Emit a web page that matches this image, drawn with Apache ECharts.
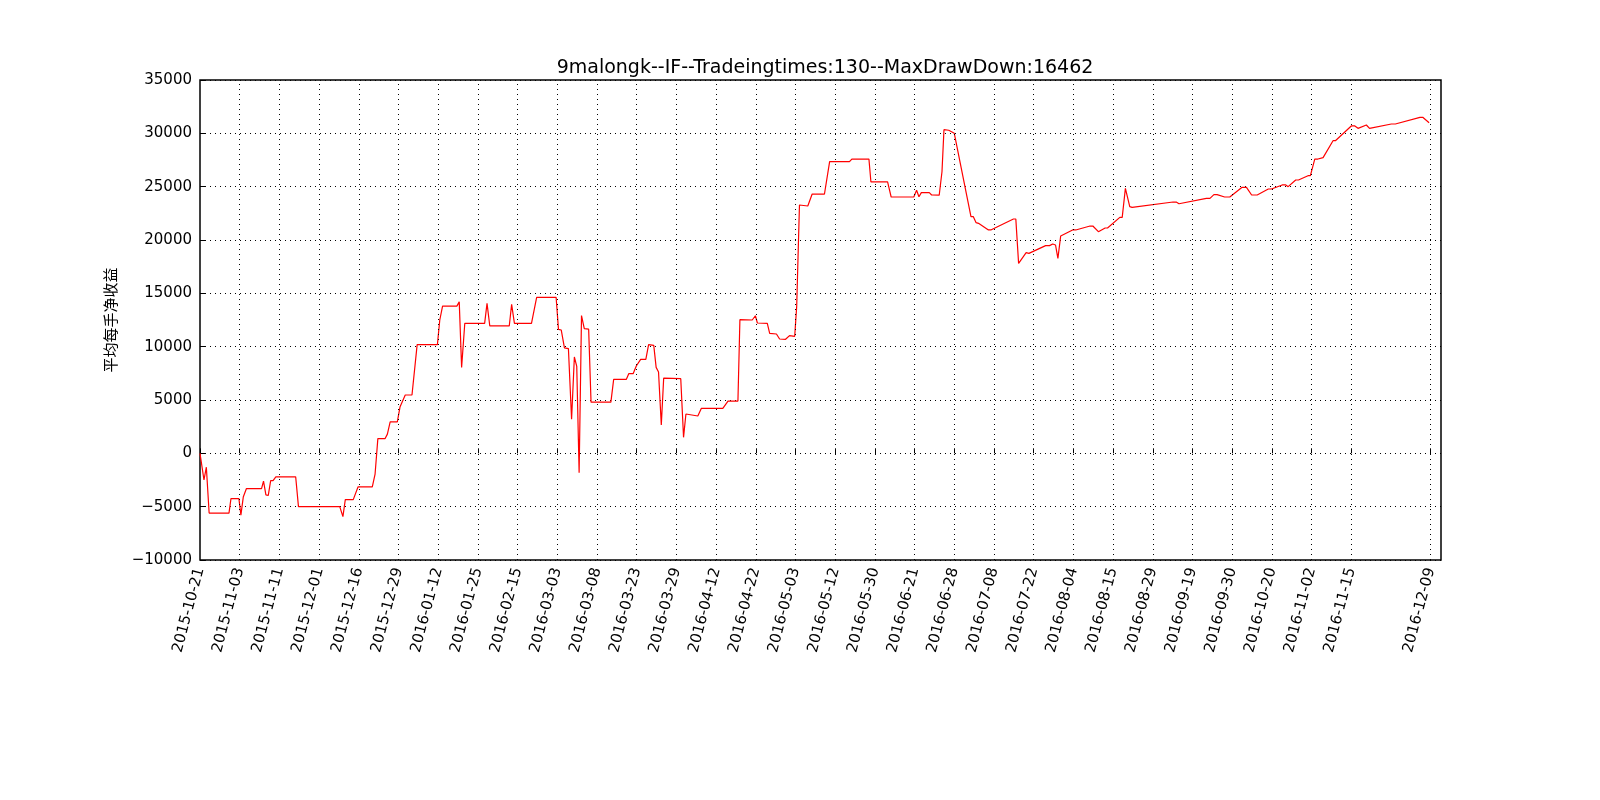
<!DOCTYPE html>
<html>
<head>
<meta charset="utf-8">
<script src="https://cdn.jsdelivr.net/npm/echarts@6/dist/echarts.min.js"></script>
<style>html,body{margin:0;padding:0;background:#fff}#main{width:1600px;height:800px}</style>
</head>
<body>
<div id="main"></div>
<script>
// 交易序号（每10笔一个刻度）与对应日期
var tickLabels = ['2015-10-21','2015-11-03','2015-11-11','2015-12-01','2015-12-16','2015-12-29',
  '2016-01-12','2016-01-25','2016-02-15','2016-03-03','2016-03-08','2016-03-23','2016-03-29',
  '2016-04-12','2016-04-22','2016-05-03','2016-05-12','2016-05-30','2016-06-21','2016-06-28',
  '2016-07-08','2016-07-22','2016-08-04','2016-08-15','2016-08-29','2016-09-19','2016-09-30',
  '2016-10-20','2016-11-02','2016-11-15','','2016-12-09'];

// 交易序号
var tradeIdx = [0,1,1.6,2.3,7.3,7.8,9.8,10.3,10.9,11.7,15.5,16,16.6,17.2,17.8,18.4,19.1,24.1,24.8,35.2,
  36,36.6,38.6,39.8,43.4,44.1,44.8,46.6,47.2,47.9,49.7,50.4,51.7,53.4,54.7,59.8,60.4,61.1,64.7,65.3,
  65.9,66.7,71.7,72.3,73,77.9,78.5,79.2,83.5,84.8,89.7,90.3,91,91.8,92.8,93.6,94.3,94.9,95.5,96.1,
  96.8,97.9,98.5,103.5,104.2,107.4,108,109.1,109.9,111,112.3,113,114.3,114.9,115.5,116.2,116.8,121.1,
  121.8,122.4,125.4,126.3,131.7,133,135.5,136,139.1,139.9,140.4,142.9,143.5,145.2,146,147.5,148.5,
  149.8,150.3,151,153.1,154.2,157.3,158.6,163.6,164.2,168.5,169,173.2,174.1,179.8,180.5,181.1,181.7,
  183.7,184.3,186.2,186.9,187.4,188.6,190,194.2,194.8,195.5,196.1,198.6,199.2,204.9,205.5,206.2,208.1,
  208.8,209.3,213,214,214.8,215.5,216.1,216.8,219.8,220.6,224.2,224.9,226.3,228,228.6,231.7,232.3,233.1,
  234.2,234.8,245.1,245.9,246.6,253.5,254.4,255.4,256.2,258.1,259.4,262.5,263.6,264.9,266.3,269.1,
  269.9,272.6,273.5,274.1,276,276.7,279.1,279.7,280.8,281.6,282.9,285.4,286,290,290.9,291.7,293.8,
  294.6,300.1,301.1,307.3,308,309.6];

// 平均每手净收益
var netProfit = [0,-2500,-1300,-5600,-5600,-4250,-4250,-5800,-4100,-3300,-3300,-2600,-3900,-3950,-2550,
  -2550,-2200,-2200,-5000,-5000,-5940,-4340,-4340,-3150,-3150,-1940,1375,1375,1800,2940,2940,4375,5470,
  5470,10190,10190,12500,13800,13800,14200,8060,12190,12190,14060,11940,11940,13970,12190,12190,14630,
  14630,11620,11560,9880,9820,3190,9030,8160,-1810,12920,11690,11640,4800,4800,6940,6940,7470,7470,8190,
  8810,8810,10190,10125,8060,7625,2660,7060,7000,1500,3690,3500,4220,4220,4900,4900,12530,12500,12900,
  12220,12190,11250,11190,10720,10690,11030,10970,13750,23280,23190,24310,24310,27340,27340,27590,27590,
  25440,25440,24030,24030,24670,24060,24440,24440,24220,24200,26400,30340,30290,30000,22190,22190,21625,
  21560,20940,20940,21970,21970,17810,18810,18750,18625,19470,19470,19625,19530,18280,20375,20940,20940,
  21310,21310,20780,21125,21125,22125,22125,24840,23125,23060,23560,23560,23400,23900,23900,24250,24250,
  24030,24030,24940,24940,24220,24220,24780,24780,25160,25160,25000,25625,25625,26030,26030,27590,27590,
  27720,29310,29310,30690,30690,30470,30780,30470,30875,30875,31500,31500,31000,31000];

var tickPos = [];
for (var i = 0; i < tickLabels.length; i++) { if (tickLabels[i]) tickPos.push(i * 10); }

var seriesData = tradeIdx.map(function (x, i) { return [x, netProfit[i]]; });
var font = 'DejaVu Sans';

var myChart = echarts.init(document.getElementById('main'));
var option = {
  animation: false,
  title: {
    text: '9malongk--IF--Tradeingtimes:130--MaxDrawDown:16462',
    left: 820, top: 54, textAlign: 'center',
    textStyle: { fontFamily: font, fontSize: 19, fontWeight: 'normal', color: '#000' }
  },
  grid: { left: 200, right: 159, top: 80, bottom: 240, show: true, borderColor: '#000', borderWidth: 1.5 },
  xAxis: {
    type: 'value', min: 0, max: 312.6,
    axisLine: { show: false },
    splitLine: { show: false },
    axisTick: { show: true, inside: true, length: 5, customValues: tickPos, lineStyle: { color: '#000' } },
    axisLabel: {
      customValues: tickPos, rotate: 75, margin: 8, fontFamily: font, fontSize: 15, color: '#000',
      formatter: function (v) { return tickLabels[Math.round(v / 10)] || ''; }
    }
  },
  yAxis: {
    type: 'value', min: -10000, max: 35000, interval: 5000,
    name: '平均每手净收益', nameLocation: 'middle', nameGap: 82, nameRotate: 90,
    nameTextStyle: { fontFamily: 'Noto Sans CJK SC', fontSize: 15, color: '#000' },
    axisLine: { show: false },
    axisTick: { show: true, inside: true, length: 5, lineStyle: { color: '#000' } },
    axisLabel: { fontFamily: font, fontSize: 15, color: '#000', margin: 8,
      formatter: function (v) { return v < 0 ? '\u2212' + (-v) : String(v); } },
    splitLine: { show: true, lineStyle: { type: [1, 4], color: '#000', width: 1 } }
  },
  series: [{
    type: 'line', data: seriesData, symbol: 'none',
    lineStyle: { color: '#ff0000', width: 1.2 },
    markLine: {
      silent: true, symbol: 'none', label: { show: false },
      lineStyle: { type: [1, 4], color: '#000', width: 1 },
      data: tickPos.filter(function (p) { return p > 0; }).map(function (p) { return { xAxis: p }; })
    }
  }]
};
myChart.setOption(option);
</script>
</body>
</html>
